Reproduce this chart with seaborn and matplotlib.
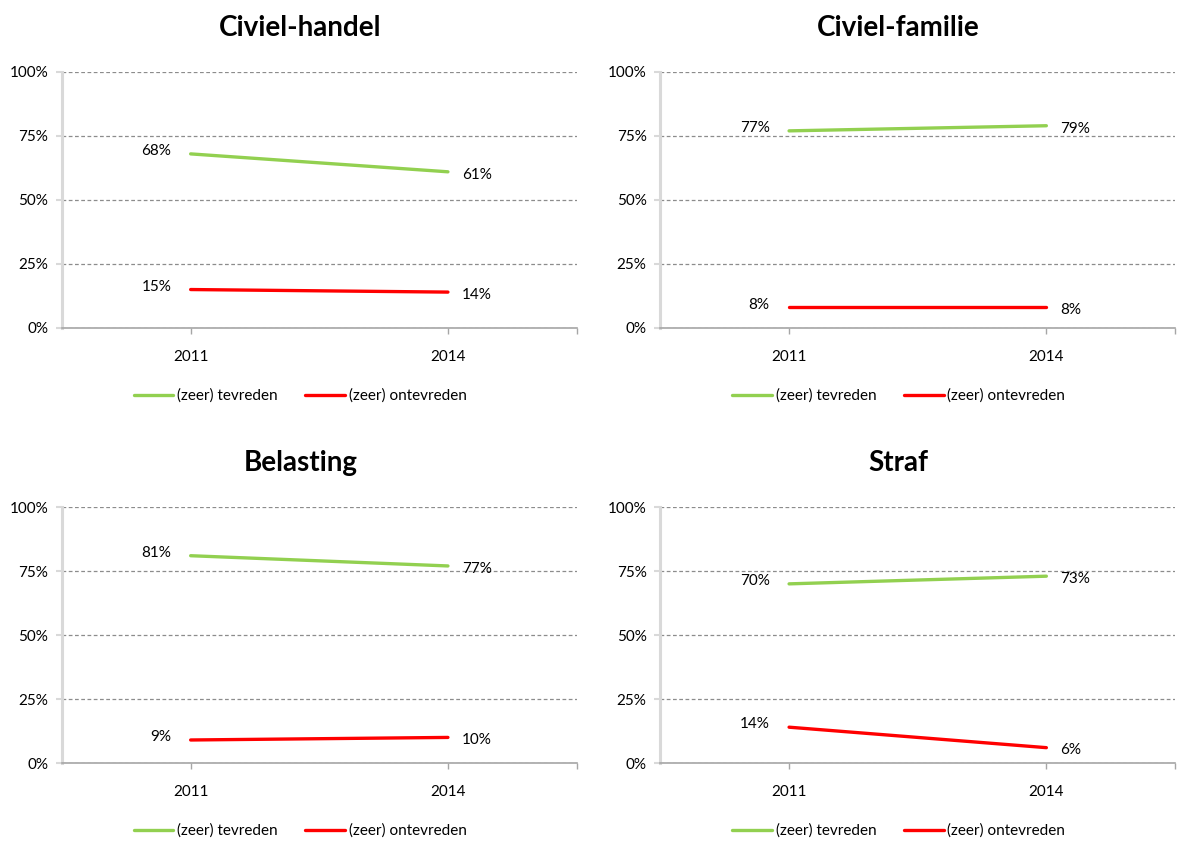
import numpy as np
import matplotlib
matplotlib.use("Agg")
import matplotlib.pyplot as plt
import seaborn as sns
import pandas as pd

# Data
years = ["2011", "2014"]
panels = ["Civiel-handel", "Civiel-familie", "Belasting", "Straf"]
series = ["(zeer) tevreden", "(zeer) ontevreden"]
tevreden = [[68, 61], [77, 79], [81, 77], [70, 73]]
ontevreden = [[15, 14], [8, 8], [9, 10], [14, 6]]
yticks = [0, 25, 50, 75, 100]

colors = {"(zeer) tevreden": "#92D050", "(zeer) ontevreden": "#FF0000"}

sns.set_style("white")
plt.rcParams['font.family'] = ['Lato', 'DejaVu Sans']
plt.rcParams['text.color'] = 'black'
plt.rcParams['axes.titlecolor'] = 'black'

fig, axes = plt.subplots(2, 2, figsize=(11.79, 8.42), dpi=100)
fig.subplots_adjust(left=0.0526, right=0.9966, top=0.9145, bottom=0.0938,
                    wspace=0.163, hspace=0.70)

for ax, name, tv, otv in zip(axes.flat, panels, tevreden, ontevreden):
    df = pd.DataFrame({
        "jaar": years * 2,
        "waarde": tv + otv,
        "reeks": [series[0]] * 2 + [series[1]] * 2,
    })
    sns.lineplot(data=df, x="jaar", y="waarde", hue="reeks", palette=colors,
                 linewidth=2.4, ax=ax)

    # data labels
    for vals in (tv, otv):
        for i, v in enumerate(vals):
            if i == 0:
                ax.annotate(f"{v}%", (i, v), xytext=(-14, 2), textcoords="offset points",
                            ha="right", va="center", fontsize=11, color="black")
            else:
                ax.annotate(f"{v}%", (i, v), xytext=(10, -2), textcoords="offset points",
                            ha="left", va="center", fontsize=11, color="black")

    ax.set_xlim(-0.5, 1.5)
    ax.set_ylim(0, 100)
    ax.set_yticks(yticks)
    ax.set_yticklabels([f"{t}%" for t in yticks], fontsize=11)
    ax.set_xticks([0, 1])
    ax.set_xticklabels(years, fontsize=11)
    ax.set_xticks([1.5], minor=True)
    ax.set_xlabel("")
    ax.set_ylabel("")

    ax.grid(axis="y", linestyle=(0, (3, 2)), color="#8C8C8C", linewidth=0.9)
    ax.set_axisbelow(True)
    for s in ["top", "right"]:
        ax.spines[s].set_visible(False)
    ax.spines["left"].set_color("#D9D9D9")
    ax.spines["left"].set_linewidth(2.2)
    ax.spines["bottom"].set_color("#A6A6A6")
    ax.spines["bottom"].set_linewidth(1.2)
    ax.tick_params(axis="y", which="major", left=True, length=4, width=1.5,
                   color="#D9D9D9", labelcolor="black", pad=6)
    ax.tick_params(axis="x", which="both", bottom=True, direction="out", length=4,
                   width=1, color="#A6A6A6", labelcolor="black", pad=12)

    ax.set_title(name, fontsize=20, fontweight="bold", x=0.463, pad=26, color="black")
    leg = ax.legend(loc="center", bbox_to_anchor=(0.463, -0.265), ncol=2, frameon=False,
                    fontsize=11, handlelength=2.6, handletextpad=0.25, columnspacing=1.8)
    for t in leg.get_texts():
        t.set_color("black")

fig.savefig("out.png", dpi=100)
